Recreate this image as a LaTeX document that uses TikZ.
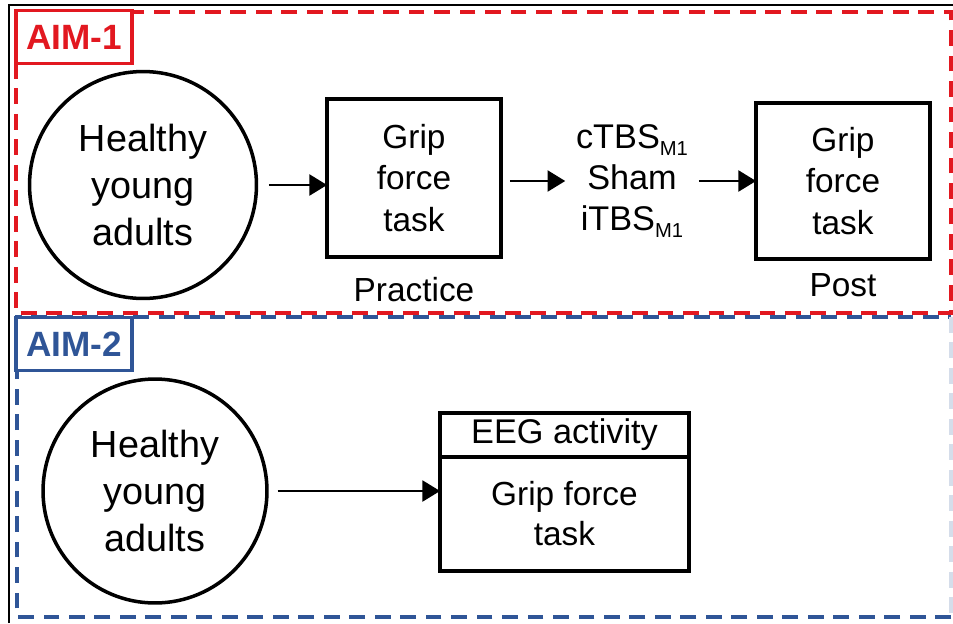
\documentclass[tikz,border=0pt]{standalone}
\usepackage{fontspec}
\setmainfont{Liberation Sans}
\usetikzlibrary{positioning,arrows.meta}
\definecolor{aimred}{RGB}{226,24,32}
\definecolor{aimblue}{RGB}{47,85,151}
\newcommand{\mone}{\raisebox{-4pt}{\fontsize{11.5}{12}\selectfont M1}}
\tikzset{
  subject/.style={
    shape = circle,
    draw,
    line width = 2pt,
    minimum size = 4.54cm,
    align = center,
    font = \fontsize{21.5}{26.6}\selectfont
  },
  taskbox/.style={
    shape = rectangle,
    draw,
    line width = 2pt,
    align = center,
    minimum width = 3.48cm,
    outer sep = 0pt,
    font = \fontsize{19}{23.8}\selectfont
  },
  tasklabel/.style={
    font = \fontsize{19}{22}\selectfont
  },
  aimlabel/.style={
    shape = rectangle,
    draw,
    fill = white,
    line width = 2pt,
    minimum width = 2.32cm,
    minimum height = 1.06cm,
    font = \fontsize{20}{22}\selectfont\bfseries
  },
  aimframe/.style={
    line width = 2pt,
    dash pattern = on 9pt off 5.5pt
  },
  flow/.style={
    -{Triangle[length=10pt,width=12pt]},
    line width = 1pt
  }
}
\begin{document}
\begin{tikzpicture}[x=0.02cm,y=-0.02cm]
        \useasboundingbox (0,0) rectangle (953,623);
        \draw[line width=1.2pt] (9,623) -- (9,5) -- (953,5);
        \draw[aimframe, aimred] (16,12) rectangle (951,313);
        \draw[aimframe, aimblue] (951,617) -- (17,617) -- (17,317) -- (951,317);
        \draw[aimframe, aimblue!20] (951,317) -- (951,617);
        \node[aimlabel, draw=aimred, text=aimred] (aim1) at (74,37) {AIM-1};
        \node[aimlabel, draw=aimblue, text=aimblue] (aim2) at (74,344) {AIM-2};
        % aim 1
        \node[subject] (healthy1) at (143,185) {Healthy\\young\\adults};
        \node[taskbox, minimum height=3.16cm] (practice) at (414,178) {Grip\\force\\task};
        \node[tasklabel, below=8pt of practice] (practicelbl) {Practice};
        \node[tasklabel, align=center, inner sep=6pt, font=\fontsize{19.5}{23.3}\selectfont] (tbs) at (632,181) {cTBS\mone\\Sham\\iTBS\mone};
        \node[taskbox, minimum height=3.12cm] (post) at (843,181) {Grip\\force\\task};
        \node[tasklabel, below=4.5pt of post] (postlbl) {Post};
        \draw[flow, shorten <=6pt] (healthy1.east) -- (practice.west |- healthy1.east);
        \draw[flow, shorten <=5pt] (practice.east |- tbs.west) -- (tbs.west);
        \draw[flow] (tbs.east) -- (post.west |- tbs.east);
        % aim 2
        \node[subject, minimum size=4.48cm] (healthy2) at (155,491) {Healthy\\young\\adults};
        \node[taskbox, minimum width=4.98cm, minimum height=0.88cm, font=\fontsize{19.5}{22}\selectfont] (eeg) at (564.5,435) {EEG activity};
        \node[taskbox, minimum width=4.98cm, minimum height=2.28cm, anchor=north, font=\fontsize{19}{22.7}\selectfont] (eegtask) at (eeg.south) {Grip force\\task};
        \draw[flow, shorten <=5pt] (healthy2.east) -- (healthy2.east -| eegtask.west);
\end{tikzpicture}
\end{document}
